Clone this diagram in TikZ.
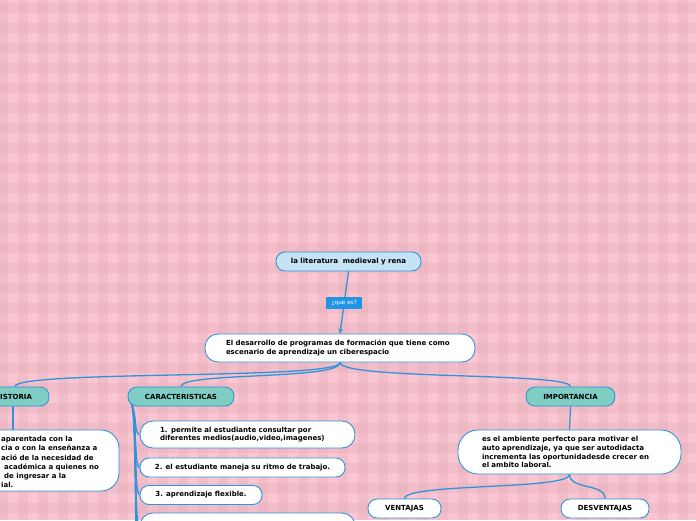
\documentclass[tikz,border=0pt]{standalone}
\usepackage{fontspec}
\setmainfont{DejaVu Sans}
\usetikzlibrary{arrows.meta,calc}
\definecolor{bgpink}{HTML}{F9C6D1}
\definecolor{bandpink}{HTML}{E2A9B8}
\definecolor{lineblue}{HTML}{2F94DA}
\definecolor{tealbox}{HTML}{80CEC3}
\definecolor{topfill}{HTML}{C6E2F5}
\definecolor{qblue}{HTML}{1F95E4}
\tikzset{
 txt/.style={font=\fontsize{7}{8.8}\selectfont\bfseries, text=black},
 pill/.style={txt, draw=lineblue, line width=0.9pt, fill=white, rounded corners=9pt, minimum height=19, inner sep=0pt},
 tealpill/.style={pill, fill=tealbox},
 bigbox/.style={txt, draw=lineblue, line width=0.9pt, fill=white, inner ysep=0pt, align=left},
 conn/.style={draw=lineblue, line width=1.3pt},
 qlab/.style={fill=qblue, text=white, font=\fontsize{5.7}{6}\selectfont, minimum width=36, minimum height=12, inner sep=0pt},
}
\begin{document}
\begin{tikzpicture}[x=1pt,y=-1pt]
\useasboundingbox (0,0) rectangle (696,520);
\fill[bgpink] (0,0) rectangle (696,520);
\foreach \i in {0,...,35} \fill[bandpink, opacity=0.3] (\i*20-2,0) rectangle (\i*20+8,520);
\foreach \j in {0,...,26} \fill[bandpink, opacity=0.3] (0,\j*20+3) rectangle (696,\j*20+13);

% nodes
\node[pill, fill=topfill, minimum width=145] (top) at (348.5,261.5) {la literatura~ medieval y rena};
\node[bigbox, rounded corners=13pt, minimum height=28, inner xsep=21, text width=228] (main) at (340,348) {El desarrollo de programas de formación que tiene como\\ escenario de aprendizaje un ciberespacio};

\node[tealpill, minimum width=84] (hist) at (7,396.5) {};
\node[txt, anchor=west, inner sep=0pt] (histt) at (0,396.5) {ISTORIA};
\node[tealpill, minimum width=106] (car) at (181,396.5) {CARACTERISTICAS};
\node[tealpill, minimum width=89] (imp) at (570.5,396.5) {IMPORTANCIA};

\node[bigbox, rounded corners=18pt, minimum width=229, minimum height=61] (hbox) at (4.5,460.5) {};
\node[txt, font=\fontsize{7}{9.2}\selectfont\bfseries, anchor=west, align=left, inner sep=0pt] (htext) at (1,462) {aparentada con la\\cia o con la enseñanza a\\ació de la necesidad de\\\hspace*{3pt}académica a quienes no\\\hspace*{3pt}de ingresar a la\\ial.};

\node[bigbox, rounded corners=13pt, minimum width=215, minimum height=27, inner xsep=20, text width=175] (c1) at (247.5,434.5) {1. permite al estudiante consultar por\\ diferentes medios(audio,video,imagenes)};
\node[pill, minimum width=205] (c2) at (242.5,467.5) {2. el estudiante maneja su ritmo de trabajo.};
\node[pill, minimum width=122] (c3) at (201,495) {3. aprendizaje flexible.};
\node[bigbox, rounded corners=13pt, minimum width=215, minimum height=28] (c4) at (247.5,527) {};
\coordinate (c5) at (140,560);
\coordinate (c6) at (140,600);

\node[bigbox, rounded corners=20pt, minimum height=44, inner xsep=24, text width=175] (impt) at (569.5,452) {es el ambiente perfecto para motivar el\\ auto aprendizaje, ya que ser autodidacta\\ incrementa las oportunidadesde crecer en\\ el ambito laboral.};
\node[pill, minimum width=73] (ven) at (404.5,508.5) {VENTAJAS};
\node[pill, minimum width=88] (des) at (605,508.5) {DESVENTAJAS};

% connectors
\draw[conn, -{Stealth[length=5pt,width=5pt]}] (top.south) -- node[qlab] (q) {¿que es?} (main.north);
\draw[conn] (main.south) .. controls (341,380) and (15,370) .. ($(hist.north)+(8,0)$);
\draw[conn] (main.south) .. controls (341,380) and (181,372) .. (car.north);
\draw[conn] (main.south) .. controls (341,380) and (570,372) .. (imp.north);
\draw[conn] ($(hist.south)+(6,0)$) -- ($(hist.south |- hbox.north)+(6,0)$);
\draw[conn] (imp.south) -- (impt.north);
\draw[conn] (impt.south) .. controls (570,490) and (405,483) .. (ven.north);
\draw[conn] (impt.south) .. controls (570,490) and (605,483) .. (des.north);

\coordinate (cs) at ($(car.south west)+(4,-2)$);
\draw[conn] (cs) .. controls (137,414) and (134,434.5) .. (c1.west);
\draw[conn] (cs) .. controls (137,414) and (134,467.5) .. (c2.west);
\draw[conn] (cs) .. controls (137,414) and (134,495) .. (c3.west);
\draw[conn] (cs) .. controls (137,414) and (134,527) .. (c4.west);
\draw[conn] (cs) .. controls (137,414) and (134,560) .. (c5);
\draw[conn] (cs) .. controls (137,414) and (134,600) .. (c6);
\end{tikzpicture}
\end{document}
